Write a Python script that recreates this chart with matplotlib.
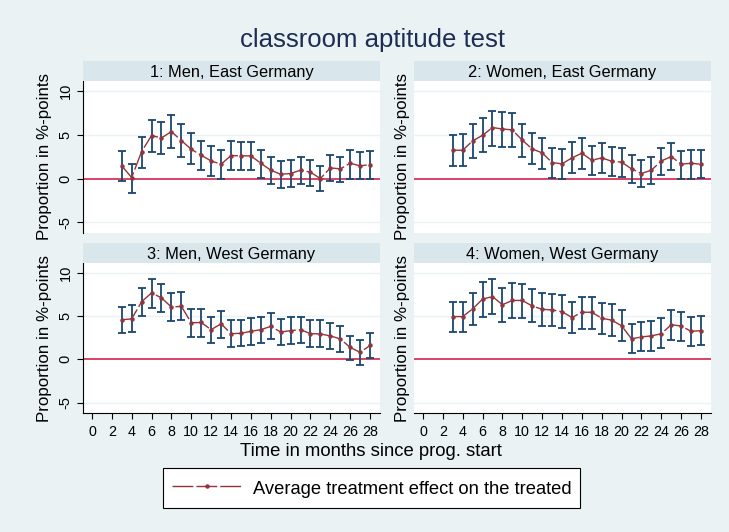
import numpy as np
import matplotlib
matplotlib.use("Agg")
import matplotlib.pyplot as plt
from matplotlib.lines import Line2D

plt.rcParams['font.family'] = ['Liberation Sans', 'DejaVu Sans']
plt.rcParams['lines.scale_dashes'] = False
plt.rcParams['axes.unicode_minus'] = False

# Dados
meses = list(range(3, 29))
titulos = ["1: Men, East Germany", "2: Women, East Germany",
           "3: Men, West Germany", "4: Women, West Germany"]

# 1: Homens, Alemanha Oriental
att_1 = [1.44, 0.11, 3.07, 4.89, 4.62, 5.34, 4.32, 3.33, 2.65, 2.00, 1.63, 2.61, 2.58,
         2.58, 1.74, 0.95, 0.49, 0.57, 0.95, 0.72, 0.00, 1.21, 1.10, 1.74, 1.44, 1.59]
sup_1 = [3.10, 1.70, 4.77, 6.70, 6.48, 7.27, 6.17, 5.15, 4.32, 3.67, 3.30, 4.28, 4.20,
         4.20, 3.30, 2.46, 2.05, 2.12, 2.46, 2.16, 1.40, 2.73, 2.50, 3.30, 3.00, 3.10]
inf_1 = [-0.23, -1.70, 1.21, 3.07, 2.77, 3.48, 2.46, 1.63, 0.98, 0.30, 0.00, 0.98, 0.95,
         0.95, 0.08, -0.64, -1.10, -0.98, -0.60, -0.83, -1.44, -0.27, -0.38, 0.00, -0.08, 0.00]

# 2: Mulheres, Alemanha Oriental
att_2 = [3.22, 3.22, 4.28, 4.92, 5.80, 5.64, 5.53, 4.36, 3.37, 2.92, 1.82, 1.67, 2.35,
         2.88, 2.08, 2.35, 1.97, 1.86, 1.10, 0.57, 0.95, 2.00, 2.50, 1.63, 1.74, 1.62]
sup_2 = [4.92, 5.08, 6.20, 6.86, 7.73, 7.58, 7.46, 6.25, 5.15, 4.58, 3.52, 3.37, 4.13,
         4.62, 3.71, 4.00, 3.56, 3.48, 2.73, 2.12, 2.50, 3.52, 4.09, 3.18, 3.30, 3.20]
inf_2 = [1.44, 1.44, 2.35, 3.00, 3.75, 3.64, 3.56, 2.42, 1.63, 1.10, 0.08, -0.04, 0.68,
         1.14, 0.38, 0.68, 0.27, 0.15, -0.49, -0.98, -0.64, 0.42, 0.98, 0.00, 0.00, 0.05]

# 3: Homens, Alemanha Ocidental
att_3 = [4.55, 4.66, 6.63, 7.65, 7.08, 6.02, 6.10, 4.20, 4.24, 3.41, 4.09, 2.95, 2.99,
         3.22, 3.41, 3.79, 3.14, 3.30, 3.41, 2.95, 2.92, 2.69, 2.35, 1.36, 0.80, 1.59]
sup_3 = [6.06, 6.25, 8.22, 9.28, 8.71, 7.65, 7.73, 5.76, 5.76, 4.92, 5.60, 4.47, 4.47,
         4.70, 4.92, 5.30, 4.62, 4.85, 4.92, 4.47, 4.47, 4.20, 3.86, 2.73, 2.20, 3.03]
inf_3 = [3.07, 3.14, 4.96, 5.95, 5.42, 4.39, 4.47, 2.54, 2.58, 1.89, 2.50, 1.44, 1.48,
         1.63, 1.89, 2.31, 1.59, 1.74, 1.89, 1.44, 1.44, 1.14, 0.83, -0.11, -0.68, 0.15]

# 4: Mulheres, Alemanha Ocidental
att_4 = [4.92, 4.92, 5.80, 6.93, 7.23, 6.29, 6.78, 6.78, 6.14, 5.76, 5.68, 5.49, 4.81,
         5.42, 5.42, 4.73, 4.51, 3.86, 2.35, 2.58, 2.69, 2.95, 3.98, 3.83, 3.22, 3.30]
sup_4 = [6.59, 6.63, 7.65, 8.86, 9.24, 8.22, 8.75, 8.71, 8.14, 7.65, 7.58, 7.42, 6.59,
         7.23, 7.23, 6.52, 6.36, 5.68, 4.05, 4.32, 4.36, 4.70, 5.68, 5.49, 4.89, 5.00]
inf_4 = [3.18, 3.10, 3.90, 4.92, 5.23, 4.32, 4.73, 4.73, 4.28, 3.83, 3.79, 3.64, 2.99,
         3.52, 3.52, 2.92, 2.69, 2.16, 0.68, 0.91, 0.98, 1.25, 2.23, 2.16, 1.55, 1.60]

efeitos = [att_1, att_2, att_3, att_4]
superiores = [sup_1, sup_2, sup_3, sup_4]
inferiores = [inf_1, inf_2, inf_3, inf_4]

# Cores no estilo Stata s2color
fundo = '#eaf2f3'
faixa = '#d9e6eb'
azul = '#1a476f'
bordo = '#90353b'
vermelho = '#d0103a'

W, H = 729, 532
fig = plt.figure(figsize=(W / 100, H / 100), dpi=100, facecolor=fundo)


def caixa(x0, y0, x1, y1):
    return [x0 / W, 1 - y1 / H, (x1 - x0) / W, (y1 - y0) / H]


# posicoes dos paineis em pixels
paineis = [(83, 81, 380, 233), (414, 81, 711, 233),
           (83, 263, 380, 413), (414, 263, 711, 413)]

for i, (x0, y0, x1, y1) in enumerate(paineis):
    ax = fig.add_axes(caixa(x0, y0, x1, y1))
    ax.set_facecolor('white')
    ax.set_xlim(-0.9, 29.0)
    ax.set_ylim(-6.2, 11.1)
    for v in [-5, 5, 10]:
        ax.axhline(v, color=fundo, lw=1.0, zorder=0)
    ax.axhline(0, color=vermelho, lw=1.1, zorder=1)

    y = np.array(efeitos[i])
    sup = np.array(superiores[i])
    inf = np.array(inferiores[i])
    ax.errorbar(meses, y, yerr=[y - inf, sup - y], fmt='none', ecolor=azul,
                elinewidth=1.3, capsize=3.2, capthick=1.3, zorder=2)
    ax.plot(meses, y, color=bordo, lw=1.0, linestyle=(0, (15, 2.2)),
            marker='o', markersize=2.2, zorder=3)

    for s in ['top', 'right', 'left', 'bottom']:
        ax.spines[s].set_visible(False)
    ax.set_yticks([-5, 0, 5, 10])
    ax.set_xticks(range(0, 29, 2))
    if i in (0, 2):
        ax.spines['left'].set_visible(True)
        ax.spines['left'].set_linewidth(0.8)
        ax.tick_params(axis='y', length=4.3, width=0.8, pad=3.0, labelsize=10.5)
        for t in ax.get_yticklabels():
            t.set_rotation(90)
            t.set_va('center')
    else:
        ax.tick_params(axis='y', left=False, labelleft=False)
    if i in (2, 3):
        ax.spines['bottom'].set_visible(True)
        ax.spines['bottom'].set_linewidth(0.8)
        ax.tick_params(axis='x', length=4.3, width=0.8, pad=4.5, labelsize=10.3)
    else:
        ax.tick_params(axis='x', bottom=False, labelbottom=False)

    # faixa do titulo do painel
    fx = fig.add_axes(caixa(x0, y0 - 20, x1, y0))
    fx.set_facecolor(faixa)
    fx.set_xticks([])
    fx.set_yticks([])
    for s in fx.spines.values():
        s.set_visible(False)
    fx.text(0.5, 0.45, titulos[i], ha='center', va='center', fontsize=11.8,
            transform=fx.transAxes)

    # rotulo do eixo y
    lx = 45 if i in (0, 2) else 402
    fig.text(lx / W, 1 - ((y0 + y1) / 2) / H, 'Proportion in %-points',
             rotation=90, ha='center', va='center', fontsize=12.2)

fig.text(372 / W, 1 - 40 / H, 'classroom aptitude test', ha='center', va='center',
         fontsize=18.5, color='#1e2d53')
fig.text(371 / W, 1 - 451 / H, 'Time in months since prog. start', ha='center',
         va='center', fontsize=13.3)

manipulador = Line2D([], [], color=bordo, lw=1.0, linestyle=(0, (15, 2.2)),
                     marker='o', markersize=2.2)
leg = fig.legend([manipulador], ['Average treatment effect on the treated'],
                 loc='center', bbox_to_anchor=(371.5 / W, 1 - 488 / H),
                 fontsize=13.2, handlelength=3.8, handleheight=1.45, numpoints=1,
                 fancybox=False, edgecolor='black', framealpha=1, borderpad=0.5,
                 handletextpad=0.6, borderaxespad=0)
leg.get_frame().set_linewidth(0.8)

fig.savefig('out.png', dpi=100, facecolor=fundo)
